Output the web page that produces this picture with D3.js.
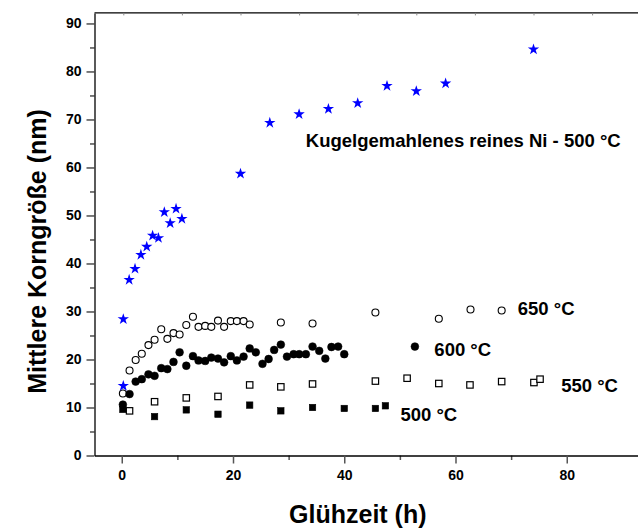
<!DOCTYPE html>
<html>
<head>
<meta charset="utf-8">
<script src="https://cdn.jsdelivr.net/npm/d3@7"></script>
<style>
  html, body { margin: 0; padding: 0; background: #fff; }
  svg { display: block; }
  text { font-family: "Liberation Sans", Arial, sans-serif; font-weight: bold; fill: #000; }
</style>
</head>
<body>
<svg id="chart" width="638" height="530"></svg>
<script>
// Ball-milled pure Ni, annealed at 500 °C (plotted against the secondary top time axis)
const milledTimes = [0, 0, 1, 2, 3, 4, 5, 6, 7, 8, 9, 10, 20, 25, 30, 35, 40, 45, 50, 55, 70];
const milledSize  = [14.5, 28.4, 36.6, 38.9, 41.8, 43.5, 45.8, 45.3, 50.7, 48.4, 51.4, 49.3,
                     58.7, 69.3, 71.1, 72.2, 73.4, 77.0, 75.9, 77.5, 84.6];

// 650 °C (open circles)
const times650 = [0.2, 1.4, 2.5, 3.6, 4.8, 5.9, 7.1, 8.2, 9.3, 10.4,
                  11.6, 12.8, 13.8, 15.0, 16.1, 17.3, 18.4, 19.6, 20.7, 21.9,
                  23.0, 28.6, 34.3, 45.6, 57.0, 62.7, 68.3];
const size650  = [12.9, 17.7, 19.9, 21.2, 23.0, 24.1, 26.3, 24.3, 25.5, 25.2,
                  27.2, 28.9, 26.8, 27.0, 26.8, 28.1, 26.8, 28.0, 28.0, 28.0,
                  27.3, 27.7, 27.5, 29.8, 28.5, 30.4, 30.2];

// 600 °C (filled circles)
const times600 = [0.2, 1.4, 2.5, 3.6, 4.8, 5.9, 7.1, 8.2, 9.3, 10.4,
                  11.6, 12.8, 13.8, 15.0, 16.1, 17.3, 18.4, 19.6, 20.7, 21.9,
                  23.0, 24.1, 25.3, 26.4, 27.4, 28.6, 29.7, 30.9, 31.9, 33.1,
                  34.3, 35.5, 36.6, 37.7, 38.9, 40.0];
const size600  = [10.6, 12.8, 15.4, 15.9, 16.9, 16.6, 18.2, 18.0, 19.5, 21.5,
                  18.7, 20.7, 19.8, 19.7, 20.4, 20.2, 19.4, 20.7, 19.8, 20.6,
                  22.3, 21.5, 19.1, 20.1, 22.0, 23.1, 20.6, 21.1, 21.1, 21.1,
                  22.7, 21.8, 20.2, 22.6, 22.7, 21.1];

// 550 °C (open squares)
const times550 = [1.4, 5.9, 11.6, 17.3, 23.0, 28.6, 34.3, 45.6, 51.3, 57.0, 62.6, 68.3, 74.1];
const size550  = [9.3, 11.2, 12.0, 12.3, 14.7, 14.3, 14.9, 15.5, 16.1, 15.0, 14.7, 15.4, 15.2];

// 500 °C (filled squares)
const times500 = [0.2, 5.9, 11.6, 17.3, 23.0, 28.6, 34.3, 40.0, 45.6];
const size500  = [9.6, 8.1, 9.5, 8.6, 10.5, 9.3, 10.0, 9.8, 9.8];

// Axis ticks and titles
const xMajorTicks = [0, 20, 40, 60, 80];
const xMinorTicks = [10, 30, 50, 70];
const xTopTicks   = [0, 10, 20, 30, 40, 50, 60, 70, 80];
const yMajorTicks = [0, 10, 20, 30, 40, 50, 60, 70, 80, 90];
const yMinorTicks = [5, 15, 25, 35, 45, 55, 65, 75, 85];
const xTitle = "Glühzeit (h)";
const yTitle = "Mittlere Korngröße (nm)";
const milledLabel = "Kugelgemahlenes reines Ni - 500 °C";

const svg = d3.select("#chart");

const x    = d3.scaleLinear().domain([-4.9, 92.9]).range([94.5, 638.5]);
const xTop = d3.scaleLinear().domain([0, 90]).range([123.3, 650.7]);
const y    = d3.scaleLinear().domain([0, 92.2]).range([455.5, 12.9]);

const [plotLeft, plotRight] = x.range();
const [plotBottom, plotTop] = y.range();

// frame: top line (right side runs off the canvas)
svg.append("line")
  .attr("x1", plotLeft).attr("x2", plotRight)
  .attr("y1", plotTop).attr("y2", plotTop)
  .attr("stroke", "#000").attr("stroke-width", 1.3);

// top axis: short inward ticks only
const topAxis = svg.append("g")
  .attr("transform", `translate(0,${plotTop})`)
  .call(d3.axisTop(xTop).tickValues(xTopTicks).tickSize(-2.5).tickFormat(""));
topAxis.select(".domain").remove();
topAxis.selectAll(".tick line").attr("stroke", "#888").attr("stroke-width", 1);

// bottom axis
const bottomMinor = svg.append("g")
  .attr("transform", `translate(0,${plotBottom})`)
  .call(d3.axisBottom(x).tickValues(xMinorTicks).tickSize(4.5).tickFormat(""));
bottomMinor.select(".domain").remove();
bottomMinor.selectAll(".tick line").attr("stroke", "#555").attr("stroke-width", 1.5);

const bottomAxis = svg.append("g")
  .attr("transform", `translate(0,${plotBottom})`)
  .call(d3.axisBottom(x).tickValues(xMajorTicks).tickSize(8).tickSizeOuter(0).tickPadding(7));
bottomAxis.select(".domain").attr("stroke", "#000").attr("stroke-width", 1.5);
bottomAxis.selectAll(".tick line").attr("stroke", "#555").attr("stroke-width", 1.5);
bottomAxis.selectAll(".tick text")
  .style("font-size", "14px").style("font-weight", "bold")
  .style("font-family", "'Liberation Sans', Arial, sans-serif").attr("fill", "#000");

// left axis
const leftMinor = svg.append("g")
  .attr("transform", `translate(${plotLeft},0)`)
  .call(d3.axisLeft(y).tickValues(yMinorTicks).tickSize(4.5).tickFormat(""));
leftMinor.select(".domain").remove();
leftMinor.selectAll(".tick line").attr("stroke", "#333").attr("stroke-width", 1.3);

const leftAxis = svg.append("g")
  .attr("transform", `translate(${plotLeft},0)`)
  .call(d3.axisLeft(y).tickValues(yMajorTicks).tickSize(8).tickSizeOuter(0).tickPadding(5));
leftAxis.select(".domain").attr("stroke", "#000").attr("stroke-width", 1.3);
leftAxis.selectAll(".tick line").attr("stroke", "#333").attr("stroke-width", 1.3);
leftAxis.selectAll(".tick text")
  .style("font-size", "14px").style("font-weight", "bold")
  .style("font-family", "'Liberation Sans', Arial, sans-serif").attr("fill", "#000");

// axis titles
svg.append("text")
  .attr("x", 357.8).attr("y", 523)
  .attr("text-anchor", "middle")
  .style("font-size", "25px")
  .text(xTitle);

svg.append("text")
  .attr("transform", "translate(46,251.5) rotate(-90)")
  .attr("text-anchor", "middle")
  .style("font-size", "25px")
  .text(yTitle);

// markers
const zip = (ts, vs) => ts.map((t, i) => ({ t, v: vs[i] }));

function squares(data, filled) {
  const s = 6.4;
  svg.append("g").selectAll("rect").data(data).join("rect")
    .attr("x", d => x(d.t) - s / 2).attr("y", d => y(d.v) - s / 2)
    .attr("width", s).attr("height", s)
    .attr("fill", filled ? "#000" : "#fff")
    .attr("stroke", "#000").attr("stroke-width", filled ? 0.6 : 1.2);
}

function circles(data, filled) {
  svg.append("g").selectAll("circle").data(data).join("circle")
    .attr("cx", d => x(d.t)).attr("cy", d => y(d.v))
    .attr("r", filled ? 3.9 : 3.5)
    .attr("fill", filled ? "#000" : "#fff")
    .attr("stroke", "#000").attr("stroke-width", filled ? 0.5 : 1.1);
}

squares(zip(times550, size550), false);
squares(zip(times500, size500), true);
circles(zip(times650, size650), false);
circles(zip(times600, size600), true);

const star = d3.symbol().type(d3.symbolStar).size(40);
svg.append("g").selectAll("path").data(zip(milledTimes, milledSize)).join("path")
  .attr("transform", d => `translate(${xTop(d.t)},${y(d.v)})`)
  .attr("d", star)
  .attr("fill", "#0000ff");

// series labels with key symbols
circles([{ t: 52.7, v: 22.7 }], true);
squares([{ t: 75.2, v: 15.9 }], false);
squares([{ t: 47.4, v: 10.35 }], true);

const labels = [
  { text: milledLabel, t: 33.1, v: 64.3 },
  { text: "650 °C", t: 71.2, v: 29.3 },
  { text: "600 °C", t: 56.2, v: 20.7 },
  { text: "550 °C", t: 79.0, v: 13.3 },
  { text: "500 °C", t: 50.1, v: 7.25 }
];
svg.append("g").selectAll("text").data(labels).join("text")
  .attr("x", d => x(d.t)).attr("y", d => y(d.v))
  .style("font-size", "18.5px")
  .text(d => d.text);
</script>
</body>
</html>
